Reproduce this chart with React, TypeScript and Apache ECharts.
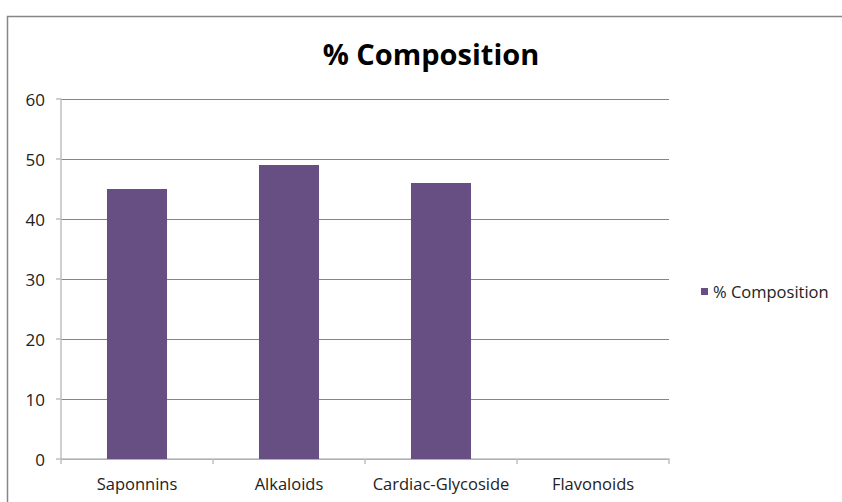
import React, { useEffect, useRef } from "react";
import * as echarts from "echarts";

const categories = ["Saponnins", "Alkaloids", "Cardiac-Glycoside", "Flavonoids"];
const compositionValues = [45, 49, 46, 0];
const seriesName = "% Composition";
const titleText = "% Composition";

export default function App() {
  const ref = useRef<HTMLDivElement>(null);
  useEffect(() => {
    if (!ref.current) return;
    const chart = echarts.init(ref.current, undefined, { renderer: "svg" });
    const font = "'Open Sans', 'Noto Sans', sans-serif";
    chart.setOption({
      animation: false,
      backgroundColor: "#ffffff",
      title: {
        text: titleText,
        left: 431,
        top: 39,
        textAlign: "center",
        padding: 0,
        textStyle: { fontFamily: font, fontSize: 29, fontWeight: "bold", color: "#000000" },
      },
      graphic: [
        {
          type: "rect",
          shape: { x: 7.5, y: 16.5, width: 900, height: 600 },
          style: { fill: "none", stroke: "#868686", lineWidth: 1.5 },
          silent: true,
        },
      ],
      legend: {
        data: [seriesName],
        left: 701,
        top: 283,
        padding: 0,
        itemWidth: 7,
        itemHeight: 7,
        itemGap: 4,
        icon: "rect",
        textStyle: { fontFamily: font, fontSize: 16.5, color: "#222222" },
      },
      grid: { left: 61, right: 173, top: 99, bottom: 43, containLabel: false },
      xAxis: {
        type: "category",
        data: categories,
        boundaryGap: true,
        axisLine: { lineStyle: { color: "#bfbfbf", width: 1.5 } },
        axisTick: { show: true, interval: 0, alignWithLabel: false, length: 5, lineStyle: { color: "#bfbfbf", width: 1.5 } },
        axisLabel: { interval: 0, hideOverlap: false, fontFamily: font, fontSize: 16.5, color: "#222222", margin: 16 },
      },
      yAxis: {
        type: "value",
        min: 0,
        max: 60,
        interval: 10,
        axisLine: { show: true, lineStyle: { color: "#bfbfbf", width: 1.5 } },
        axisTick: { show: true, length: 5, lineStyle: { color: "#bfbfbf", width: 1.5 } },
        axisLabel: { fontFamily: font, fontSize: 17, color: "#222222", margin: 16 },
        splitLine: { show: true, lineStyle: { color: "#868686", width: 1 } },
      },
      series: [
        {
          name: seriesName,
          type: "bar",
          data: compositionValues,
          barWidth: "39.5%",
          itemStyle: { color: "#674F84" },
        },
      ],
    });
    return () => chart.dispose();
  }, []);
  return (
    <div
      ref={ref}
      style={{ position: "fixed", left: 0, top: 0, width: 842, height: 502 }}
    />
  );
}
